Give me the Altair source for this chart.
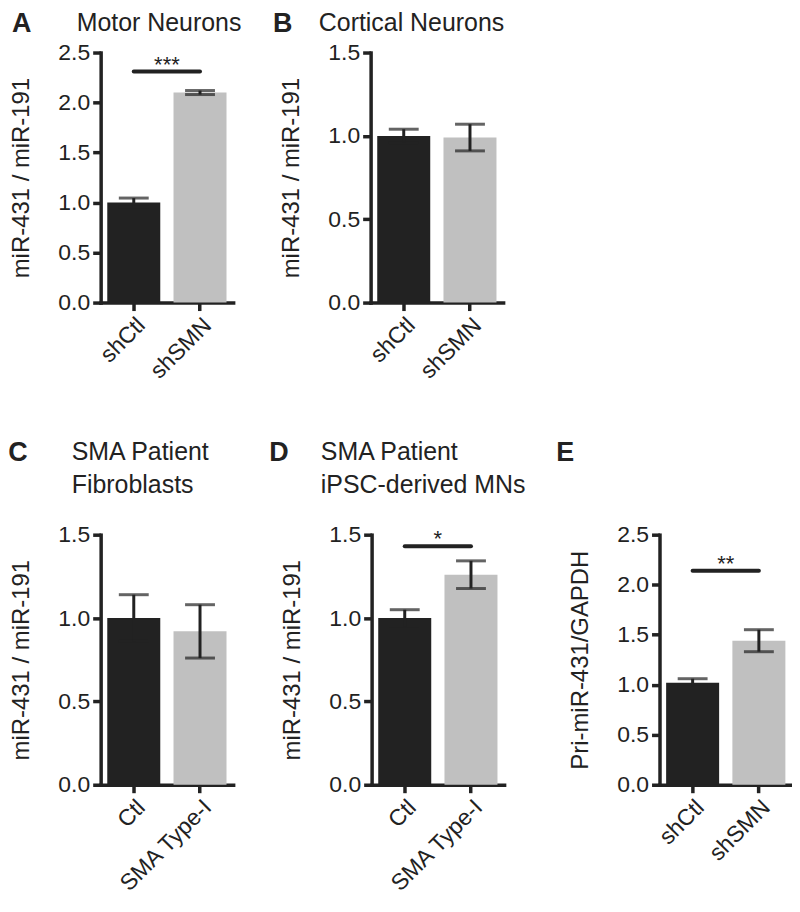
import altair as alt
import pandas as pd

FONT = "Liberation Sans"
DARK = "#222222"
LIGHT = "#c0c0c0"

# ---- data ----
a_cats = ["shCtl", "shSMN"]
a_vals = [1.00, 2.10]
a_errs = [0.045, 0.02]

b_cats = ["shCtl", "shSMN"]
b_vals = [1.00, 0.99]
b_errs = [0.04, 0.08]

c_cats = ["Ctl", "SMA Type-I"]
c_vals = [1.00, 0.92]
c_errs = [0.14, 0.16]

d_cats = ["Ctl", "SMA Type-I"]
d_vals = [1.00, 1.26]
d_errs = [0.05, 0.083]

e_cats = ["shCtl", "shSMN"]
e_vals = [1.02, 1.44]
e_errs = [0.04, 0.11]

a_sig = {"y": 2.31, "label": "***"}
d_sig = {"y": 1.43, "label": "*"}
e_sig = {"y": 2.14, "label": "**"}

W = 133
H = 251


def panel(cats, vals, errs, ymax, ytitle, letter, letter_dx, letter_dy,
          title, title_dx, title_dy, sig=None):
    df = pd.DataFrame({
        "cat": cats,
        "val": vals,
        "lo": [v - e for v, e in zip(vals, errs)],
        "hi": [v + e for v, e in zip(vals, errs)],
    })
    ticks = [round(0.5 * i, 1) for i in range(int(round(ymax / 0.5)) + 1)]

    def xenc(field):
        return alt.X(f"{field}:N", sort=cats,
                     scale=alt.Scale(domain=cats, paddingInner=0.2, paddingOuter=0.1),
                     axis=alt.Axis(title=None, labelAngle=-45))

    def yenc(field):
        return alt.Y(f"{field}:Q",
                     scale=alt.Scale(domain=[0, ymax], nice=False, zero=True),
                     axis=alt.Axis(values=ticks, format=".1f", title=ytitle))

    bars = alt.Chart(df).mark_bar().encode(
        x=xenc("cat"), y=yenc("val"),
        color=alt.Color("cat:N", scale=alt.Scale(domain=cats, range=[DARK, LIGHT]), legend=None),
    )
    err = alt.Chart(df).mark_rule(color=DARK, strokeWidth=3).encode(
        x=xenc("cat"), y=yenc("lo"), y2="hi:Q")
    cap_hi = alt.Chart(df).mark_tick(color=DARK, size=30, thickness=3).encode(
        x=xenc("cat"), y=yenc("hi"))
    cap_lo = alt.Chart(df).mark_tick(color=DARK, size=30, thickness=3).encode(
        x=xenc("cat"), y=yenc("lo"))
    layers = [bars, err, cap_hi, cap_lo]

    if sig is not None:
        sdf = pd.DataFrame({"c1": [cats[0]], "c2": [cats[1]], "y": [sig["y"]], "label": [sig["label"]]})
        line = alt.Chart(sdf).mark_rule(color=DARK, strokeWidth=4, strokeCap="round").encode(
            x=xenc("c1"), x2="c2:N", y=yenc("y"))
        stars = alt.Chart(sdf).mark_text(color=DARK, font=FONT, fontSize=22, dx=W * 0.25,
                                         baseline="alphabetic", align="center").encode(
            x=xenc("c1"), y=yenc("y"), text="label:N")
        layers += [line, stars]

    ldf = pd.DataFrame({"t": [letter]})
    lt = alt.Chart(ldf).mark_text(font=FONT, fontSize=27, fontWeight="bold", color=DARK,
                                  align="left", baseline="top").encode(
        x=alt.value(letter_dx), y=alt.value(letter_dy), text="t:N")
    layers.append(lt)
    if title:
        tdf = pd.DataFrame({"t": [title]})
        tt = alt.Chart(tdf).mark_text(font=FONT, fontSize=25, color=DARK, align="left",
                                      baseline="top", lineBreak="\n", lineHeight=33).encode(
            x=alt.value(title_dx), y=alt.value(title_dy), text="t:N")
        layers.append(tt)
    return alt.layer(*layers).properties(width=W, height=H)


A = panel(a_cats, a_vals, a_errs, 2.5, "miR-431 / miR-191", "A", -89, -42,
          "Motor Neurons", -24, -42, a_sig)
B = panel(b_cats, b_vals, b_errs, 1.5, "miR-431 / miR-191", "B", -98, -42,
          "Cortical Neurons", -52, -42)
C = panel(c_cats, c_vals, c_errs, 1.5, "miR-431 / miR-191", "C", -92.7, -94.5,
          "SMA Patient\nFibroblasts", -29, -94.5)
D = panel(d_cats, d_vals, d_errs, 1.5, "miR-431 / miR-191", "D", -102.7, -94.5,
          "SMA Patient\niPSC-derived MNs", -51, -94.5, d_sig)
E = panel(e_cats, e_vals, e_errs, 2.5, "Pri-miR-431/GAPDH", "E", -103.7, -94.5,
          "", 0, 0, e_sig)

row1 = alt.hconcat(A, B, spacing=138, bounds="flush")
row2 = alt.hconcat(C, alt.hconcat(D, E, spacing=156, bounds="flush"), spacing=139, bounds="flush")

chart = alt.vconcat(row1, row2, spacing=56).configure_view(stroke=None).configure_axis(
    grid=False,
    domainColor=DARK, domainWidth=3.5, domainCap="square",
    tickColor=DARK, tickWidth=3.5, tickSize=8,
    labelFont=FONT, labelFontSize=23, labelColor=DARK, labelPadding=3,
    titleFont=FONT, titleFontSize=24, titleFontWeight="normal", titleColor=DARK,
    titlePadding=24,
).properties(background="white", padding={"left": 0, "top": 0, "right": 0, "bottom": 0})

chart.save("out.html", embed_options={"renderer": "svg", "actions": False})
